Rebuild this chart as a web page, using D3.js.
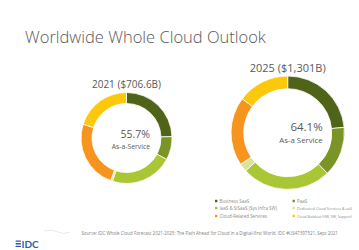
<!DOCTYPE html>
<html><head><meta charset="utf-8">
<script src="https://cdn.jsdelivr.net/npm/d3@7"></script>
<style>
html,body{margin:0;padding:0;background:#fff;}
svg{display:block;font-family:"Open Sans","Noto Sans",sans-serif;}
</style></head>
<body>
<svg id="chart" width="359" height="250"></svg>
<script>
const categories = ["Business SaaS","PaaS","IaaS & SISaaS (Sys Infra SW)","Dedicated Cloud Services & aaS","Cloud-Related Services","Cloud Buildout (HW, SW, Support)"];
const colors = ["#4f6419","#7b9426","#a9c734","#d6e49a","#f7941d","#fdc70b"];
const values2021 = [173.1, 58.6, 156.9, 4.9, 171.0, 142.1];
const values2025 = [305.7, 184.7, 333.1, 29.9, 255.0, 192.6];
const titles = ["2021 ($706.6B)", "2025 ($1,301B)"];
const shareLabels = ["55.7%", "64.1%"];
const subLabels = ["As-a-Service", "As-a Service"];

const svg = d3.select("#chart");

svg.append("text").attr("x",25).attr("y",42.5)
  .attr("font-size",16.5).attr("font-weight",300).attr("fill","#595959")
  .text("Worldwide Whole Cloud Outlook");

const pie = d3.pie().sort(null).value(d=>d);

function donut(vals, cx, cy, ro, ri, title, tsize, ty, share, sub, shareSize, subSize, rx, shareY, subY){
  const g = svg.append("g").attr("transform",`translate(${cx},${cy})`);
  const arc = d3.arc().innerRadius(ri).outerRadius(ro);
  g.selectAll("path").data(pie(vals)).join("path")
    .attr("d",arc).attr("fill",(d,i)=>colors[i])
    .attr("stroke","#fff").attr("stroke-width",0.8);
  svg.append("text").attr("x",cx).attr("y",ty).attr("text-anchor","middle")
    .attr("font-size",tsize).attr("fill","#595959").text(title);
  g.append("text").attr("x",rx).attr("y",shareY).attr("text-anchor","end")
    .attr("font-size",shareSize).attr("fill","#595959").text(share);
  g.append("text").attr("x",rx).attr("y",subY).attr("text-anchor","end")
    .attr("font-size",subSize).attr("fill","#595959").text(sub);
}

donut(values2021, 126.5, 138, 45.5, 34.5, titles[0], 10, 88, shareLabels[0], subLabels[0], 10.5, 6.8, 23.5, -0.5, 11);
donut(values2025, 287.7, 132.7, 56.7, 44, titles[1], 11, 71.5, shareLabels[1], subLabels[1], 11.5, 7.8, 35, -1.5, 10);

// legend
const lg = svg.append("g");
categories.forEach((c,i)=>{
  const col = i%2, row = Math.floor(i/2);
  const x = col===0 ? 215 : 292.5;
  const y = [201, 208, 216][row];
  lg.append("rect").attr("x",x).attr("y",y-1.2).attr("width",2.4).attr("height",2.4).attr("fill",colors[i]);
  let fs = 4.5;
  const t = lg.append("text").attr("x",x+4.5).attr("y",y+1.5).attr("font-size",fs).attr("fill","#8a8a8a").text(c);
  const maxW = 352 - (x+4.5);
  const w = t.node().getComputedTextLength();
  if (w > maxW) { fs = fs * maxW / w; t.attr("font-size", fs.toFixed(2)); }
});

// source
svg.append("text").attr("x",81.5).attr("y",234.5).attr("font-size",4.45).attr("fill","#808080")
  .text("Source: IDC Whole Cloud Forecast 2021-2025: The Path Ahead for Cloud in a Digital-first World, IDC #US47397521, Sept 2021");

// logo
const logo = svg.append("g");
svg.append("path").attr("d","M44,231 Q52,229 58,232 T70,232").attr("fill","none").attr("stroke","#e3e3e3").attr("stroke-width",0.8);
[0,1,2].forEach(i=>{
  logo.append("rect").attr("x",15.5).attr("y",240.5+i*2.6).attr("width",5.5).attr("height",1.3).attr("rx",0.6).attr("fill","#2a5fa8");
});
logo.append("text").attr("x",21.5).attr("y",247.5).attr("font-size",10).attr("font-weight",700)
  .attr("fill","#2a5fa8").attr("font-family","Lato, 'Open Sans', sans-serif").text("IDC");
</script>
</body></html>
